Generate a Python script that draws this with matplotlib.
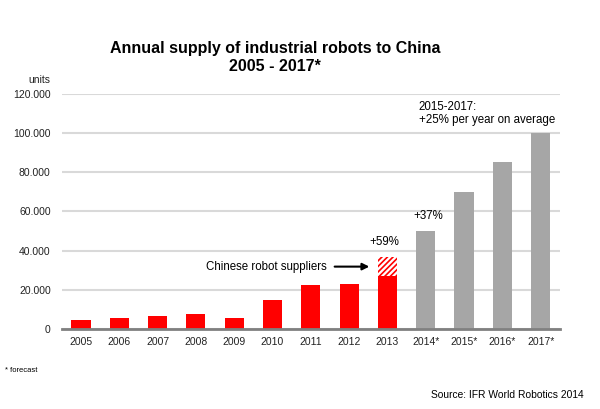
import numpy as np
import matplotlib.pyplot as plt
from matplotlib.ticker import FuncFormatter

plt.rcParams['font.family'] = ['Liberation Sans', 'DejaVu Sans']
plt.rcParams['hatch.linewidth'] = 1.2

years = ["2005", "2006", "2007", "2008", "2009", "2010", "2011", "2012", "2013",
         "2014*", "2015*", "2016*", "2017*"]
actual = [4300, 5600, 6500, 7800, 5500, 14900, 22600, 23100, 27200]   # red bars
chinese_suppliers_2013 = 9400                                         # hatched part
forecast = [50100, 70100, 85500, 100000]                               # grey bars

red = "#ff0000"
grey = "#a6a6a6"

fig = plt.figure(figsize=(6, 4.09), dpi=100)
ax = fig.add_axes([0.103, 0.196, 0.830, 0.574])

x = np.arange(len(years))
n_act = len(actual)
ax.bar(x[:n_act], actual, width=0.5, color=red, zorder=3)
ax.bar(x[n_act - 1], chinese_suppliers_2013, bottom=actual[-1], width=0.5,
       facecolor="white", edgecolor=red, hatch="//////", linewidth=0, zorder=3)
ax.bar(x[n_act:], forecast, width=0.5, color=grey, zorder=3)

ax.set_xlim(-0.5, len(years) - 0.5)
ax.set_ylim(0, 120000)
ax.set_yticks(np.arange(0, 120001, 20000))
ax.yaxis.set_major_formatter(FuncFormatter(lambda v, p: "0" if v == 0 else "{:,.0f}".format(v).replace(",", ".")))
ax.set_xticks(x)
ax.set_xticklabels(years)
ax.tick_params(axis="both", length=0, labelsize=7.5, colors="#222222")
ax.tick_params(axis="y", pad=8)
ax.tick_params(axis="x", pad=6)
ax.grid(axis="y", color="#d9d9d9", linewidth=1.5, zorder=0)
for s in ["top", "right", "left"]:
    ax.spines[s].set_visible(False)
ax.spines["bottom"].set_color("#808080")
ax.spines["bottom"].set_linewidth(2)
ax.spines["bottom"].set_zorder(4)

# annotations
ax.text(7.93, 41500, "+59%", ha="center", va="bottom", fontsize=8.3)
ax.text(9.06, 54500, "+37%", ha="center", va="bottom", fontsize=8.3)
ax.text(8.82, 103500, "2015-2017:\n+25% per year on average", ha="left", va="bottom", fontsize=8.3,
        linespacing=1.15)
ax.annotate("", xy=(7.6, 31800), xytext=(6.55, 31800),
            arrowprops=dict(arrowstyle="-|>", color="black", lw=1.5, mutation_scale=10))
ax.text(6.42, 31800, "Chinese robot suppliers", ha="right", va="center", fontsize=8.3)

fig.text(0.458, 0.82, "Annual supply of industrial robots to China\n2005 - 2017*",
         ha="center", va="bottom", fontsize=11.5, fontweight="bold", linespacing=1.2)
fig.text(0.047, 0.797, "units", fontsize=7.5, color="#222222")
fig.text(0.008, 0.09, "* forecast", fontsize=5.5)
fig.text(0.972, 0.028, "Source: IFR World Robotics 2014", ha="right", fontsize=7.4)

fig.savefig("out.png", dpi=100, facecolor="white")
